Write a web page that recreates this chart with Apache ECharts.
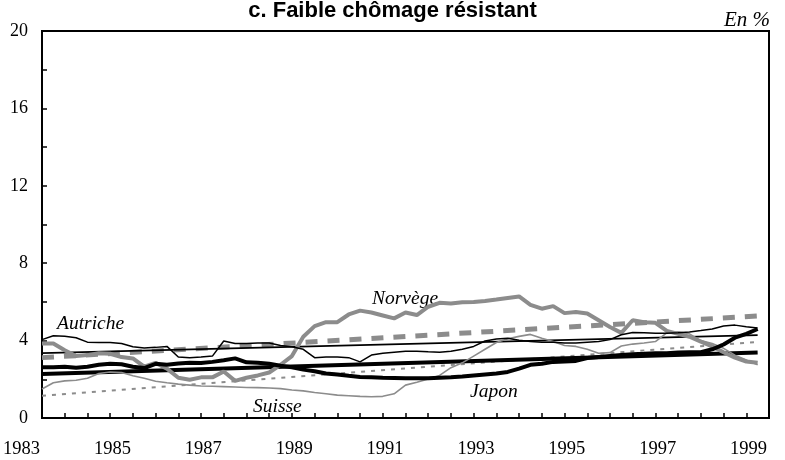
<!DOCTYPE html>
<html>
<head>
<meta charset="utf-8">
<script src="https://cdn.jsdelivr.net/npm/echarts@6/dist/echarts.min.js"></script>
<style>
  html, body { margin: 0; padding: 0; background: #fff; }
  #chart { width: 785px; height: 460px; }
</style>
</head>
<body>
<div id="chart"></div>
<script>
// quarterly series, 1983Q1 .. 1998Q4
const autriche = [4.05, 4.25, 4.22, 4.15, 3.92, 3.9, 3.9, 3.85, 3.68, 3.62, 3.65, 3.7,
  3.15, 3.12, 3.15, 3.2, 3.98, 3.85, 3.85, 3.87, 3.88, 3.75, 3.68, 3.55,
  3.12, 3.15, 3.15, 3.12, 2.9, 3.25, 3.35, 3.4, 3.45, 3.45, 3.42, 3.4,
  3.45, 3.55, 3.7, 3.98, 4.08, 4.12, 4.02, 3.95, 3.92, 3.92, 3.88, 3.88,
  3.92, 3.95, 4.05, 4.3, 4.42, 4.4, 4.38, 4.38, 4.4, 4.45, 4.52, 4.6,
  4.75, 4.8, 4.72, 4.65];
const japon = [2.62, 2.62, 2.65, 2.6, 2.65, 2.75, 2.8, 2.78, 2.65, 2.58, 2.8, 2.75,
  2.82, 2.85, 2.84, 2.9, 2.98, 3.08, 2.88, 2.85, 2.8, 2.7, 2.62, 2.5,
  2.42, 2.3, 2.25, 2.18, 2.12, 2.1, 2.08, 2.07, 2.05, 2.05, 2.06, 2.08,
  2.1, 2.14, 2.2, 2.25, 2.3, 2.38, 2.55, 2.75, 2.8, 2.9, 2.92, 2.95,
  3.1, 3.15, 3.2, 3.25, 3.3, 3.32, 3.35, 3.35, 3.38, 3.4, 3.4, 3.55,
  3.8, 4.15, 4.35, 4.6];
const norvege = [3.85, 3.85, 3.5, 3.2, 3.25, 3.35, 3.32, 3.15, 3.08, 2.65, 2.85, 2.55,
  2.08, 1.98, 2.1, 2.1, 2.4, 1.92, 2.08, 2.2, 2.35, 2.75, 3.2, 4.2,
  4.75, 4.95, 4.95, 5.35, 5.55, 5.45, 5.3, 5.15, 5.45, 5.32, 5.75, 5.95,
  5.92, 5.98, 6.0, 6.05, 6.12, 6.2, 6.28, 5.85, 5.65, 5.78, 5.42, 5.48,
  5.4, 5.05, 4.7, 4.4, 5.05, 4.95, 4.92, 4.5, 4.35, 4.2, 3.95, 3.7,
  3.4, 3.12, 2.92, 2.85];
const suisse = [1.5, 1.82, 1.92, 1.95, 2.05, 2.3, 2.38, 2.35, 2.18, 2.05, 1.9, 1.82,
  1.75, 1.7, 1.65, 1.64, 1.62, 1.6, 1.58, 1.57, 1.55, 1.52, 1.45, 1.4,
  1.32, 1.25, 1.18, 1.15, 1.12, 1.1, 1.12, 1.25, 1.7, 1.85, 2.02, 2.2,
  2.6, 2.85, 3.2, 3.55, 3.9, 4.1, 4.22, 4.32, 4.12, 3.95, 3.75, 3.7,
  3.55, 3.35, 3.38, 3.72, 3.82, 3.88, 3.95, 4.4, 4.45, 4.35, 4.0, 3.85,
  3.6, 3.25, 3.0, 2.75];

// linear trends: value at start and end of the period
const trendYears = [1983, 1998.75];
const trendAutriche = [3.35, 4.28];
const trendJapon = [2.28, 3.38];
const trendNorvege = [3.12, 5.27];
const trendSuisse = [1.15, 3.93];

const xLabels = [1983, 1985, 1987, 1989, 1991, 1993, 1995, 1997, 1999];
const yLabels = [0, 4, 8, 12, 16, 20];

const firstYear = 1983;
const quarters = autriche.map((_, i) => firstYear + i / 4);
const pairs = (vals) => vals.map((v, i) => [quarters[i], v]);
const trend = (vals) => vals.map((v, i) => [trendYears[i], v]);

const gray = '#8c8c8c';
const serif = '"Liberation Serif", "Times New Roman", serif';

const myChart = echarts.init(document.getElementById('chart'));

function line(name, data, color, width, type, z) {
  return {
    name: name,
    type: 'line',
    data: data,
    symbol: 'none',
    z: z,
    lineStyle: { color: color, width: width, type: type || 'solid', cap: 'butt' }
  };
}

const option = {
  animation: false,
  backgroundColor: '#fff',
  grid: {
    left: 42, right: 16, top: 31, bottom: 42,
    outerBoundsMode: 'none',
    containLabel: false,
    show: true, borderColor: '#000', borderWidth: 2, backgroundColor: 'transparent'
  },
  xAxis: {
    type: 'value',
    min: 1983, max: 1999, interval: 0.5,
    axisLine: { lineStyle: { color: '#000', width: 2 } },
    axisTick: { inside: true, length: 5, lineStyle: { color: '#000', width: 1.5 } },
    splitLine: { show: false },
    axisLabel: {
      margin: 22,
      color: '#000',
      fontFamily: serif,
      fontSize: 18.5,
      align: 'right',
      padding: [0, 2, 0, 0],
      formatter: (v) => xLabels.indexOf(v) >= 0 ? String(v) : ''
    }
  },
  yAxis: {
    type: 'value',
    min: 0, max: 20, interval: 2,
    axisLine: { show: true, lineStyle: { color: '#000', width: 2 } },
    axisTick: { show: true, inside: true, length: 5, lineStyle: { color: '#000', width: 1.5 } },
    splitLine: { show: false },
    axisLabel: {
      margin: 14,
      color: '#000',
      fontFamily: serif,
      fontSize: 18,
      formatter: (v) => yLabels.indexOf(v) >= 0 ? String(v) : ''
    }
  },
  series: [
    line('Tendance Suisse', trend(trendSuisse), gray, 2, [4, 6], 2),
    line('Tendance Norvège', trend(trendNorvege), gray, 5, [12, 10], 2),
    line('Tendance Japon', trend(trendJapon), '#000', 4, 'solid', 2),
    line('Tendance Autriche', trend(trendAutriche), '#000', 1.8, 'solid', 2),
    line('Suisse', pairs(suisse), gray, 1.6, 'solid', 3),
    line('Norvège', pairs(norvege), gray, 4, 'solid', 3),
    line('Japon', pairs(japon), '#000', 4, 'solid', 4),
    line('Autriche', pairs(autriche), '#000', 1.5, 'solid', 5)
  ],
  graphic: [
    { type: 'text', left: 'center', top: 0,
      style: { text: 'c. Faible chômage résistant', font: 'bold 22px "Liberation Sans", Arial, sans-serif', fill: '#000' } },
    { type: 'text', right: 15, top: 10,
      style: { text: 'En %', font: 'italic 21px ' + serif, fill: '#000' } },
    { type: 'text', x: 57, y: 314,
      style: { text: 'Autriche', font: 'italic 19.5px ' + serif, fill: '#000' } },
    { type: 'text', x: 372, y: 289,
      style: { text: 'Norvège', font: 'italic 19.5px ' + serif, fill: '#000' } },
    { type: 'text', x: 470, y: 382,
      style: { text: 'Japon', font: 'italic 19.5px ' + serif, fill: '#000' } },
    { type: 'text', x: 253, y: 397,
      style: { text: 'Suisse', font: 'italic 19.5px ' + serif, fill: '#000' } }
  ]
};

myChart.setOption(option);
</script>
</body>
</html>
